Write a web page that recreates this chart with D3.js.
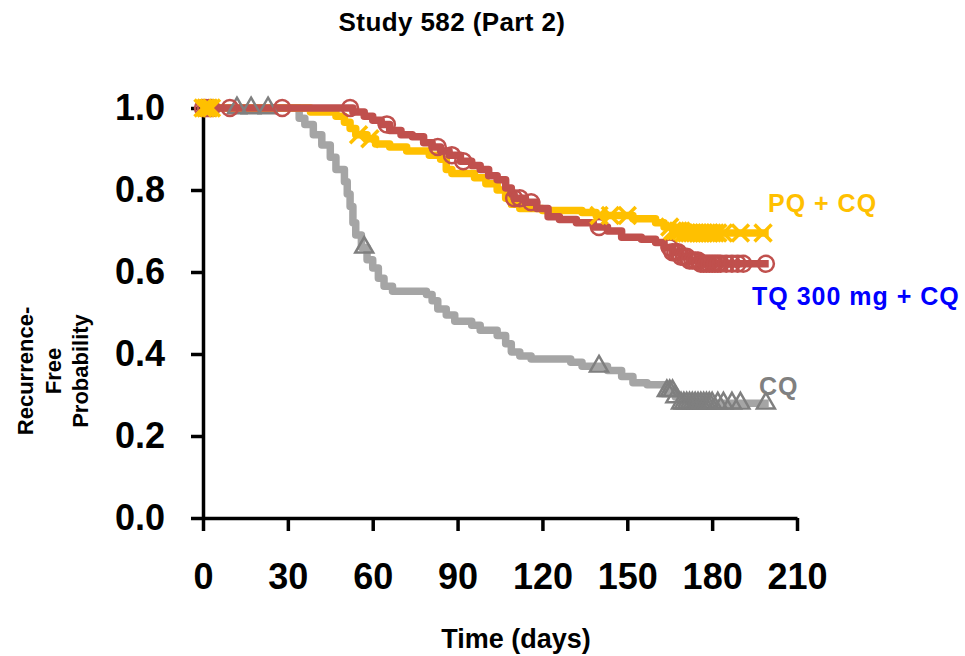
<!DOCTYPE html>
<html>
<head>
<meta charset="utf-8">
<script src="https://cdn.jsdelivr.net/npm/d3@7"></script>
<style>
  body { margin: 0; background: #fff; }
  svg { display: block; font-family: "Liberation Sans", Arial, sans-serif; }
</style>
</head>
<body>
<svg width="965" height="656"></svg>
<script>
// Kaplan-Meier steps: [day, survival]
const cqSteps = [[0,1],[34,0.975],[36,0.96],[39,0.935],[42,0.91],[45,0.88],[47,0.85],[50,0.82],[51,0.79],[52,0.76],[53,0.72],[54,0.69],[56,0.66],[58,0.63],[60,0.61],[62,0.585],[64,0.565],[67,0.553],[79,0.545],[81,0.53],[83,0.51],[86,0.495],[89,0.48],[95,0.47],[98,0.458],[104,0.445],[107,0.425],[109,0.405],[112,0.395],[116,0.388],[130,0.38],[134,0.37],[143,0.36],[148,0.345],[152,0.33],[157,0.325],[164,0.31],[167,0.295],[169,0.28],[200,0.28]];
const pqSteps = [[0,1],[38,0.99],[47,0.98],[50,0.965],[52,0.95],[54,0.935],[58,0.925],[61,0.912],[66,0.905],[72,0.895],[80,0.885],[84,0.875],[86,0.85],[88,0.84],[96,0.83],[100,0.815],[104,0.8],[107,0.78],[109,0.765],[112,0.755],[120,0.75],[134,0.745],[139,0.738],[152,0.73],[160,0.72],[163,0.71],[166,0.7],[170,0.695],[200,0.695]];
const tqSteps = [[0,1],[53,0.99],[57,0.98],[60,0.97],[63,0.96],[66,0.945],[70,0.935],[74,0.93],[78,0.915],[81,0.905],[84,0.895],[87,0.885],[91,0.87],[95,0.86],[98,0.85],[101,0.835],[104,0.825],[107,0.805],[109,0.79],[110,0.78],[114,0.77],[118,0.755],[122,0.735],[126,0.728],[132,0.72],[138,0.71],[143,0.7],[148,0.685],[155,0.68],[160,0.672],[163,0.66],[166,0.648],[169,0.637],[172,0.628],[176,0.62],[200,0.62]];

// censored times (days)
const cqCensor = [12,17,23,57,140,164,165,166,167,169,170,171,172,173,174,175,176,177,178,179,180,182,184,187,190,199];
const pqCensor = [0,1,2,3,55,59,140,144,150,165,166,167,168,169,170,171,172,173,174,175,176,177,178,179,180,181,182,184,190,198];
const tqCensor = [0,1,2,3,9.5,28,52,65,83,88,92,110,112,116,140,165,166,167,168,169,170,171,172,173,174,175,176,177,178,179,180,181,182,183,185,187,189,191,199];

const xTicks = [0,30,60,90,120,150,180,210];
const yTicks = [0,0.2,0.4,0.6,0.8,1.0];

const svg = d3.select("svg");

const x = d3.scaleLinear().domain([0,210]).range([203,797]);
const y = d3.scaleLinear().domain([0,1]).range([518,108]);

function survAt(steps, t) {
  let s = steps[0][1];
  steps.forEach(function (d) { if (d[0] <= t) s = d[1]; });
  return s;
}

const line = d3.line()
  .x(d => x(d[0]))
  .y(d => y(d[1]))
  .curve(d3.curveStepAfter);

// axes
const yAxis = d3.axisLeft(y).tickValues(yTicks).tickFormat(d3.format(".1f"))
  .tickSize(12).tickSizeOuter(0).tickPadding(26);
const xAxis = d3.axisBottom(x).tickValues(xTicks).tickFormat(d => d)
  .tickSize(13).tickSizeOuter(0).tickPadding(32);

function styleAxis(g) {
  g.select(".domain").attr("stroke", "#000").attr("stroke-width", 3.5);
  g.selectAll(".tick line").attr("stroke", "#000").attr("stroke-width", 3.5);
  g.selectAll(".tick text")
    .attr("fill", "#000")
    .attr("font-family", "'Liberation Sans', Arial, sans-serif")
    .attr("font-weight", "bold")
    .attr("font-size", 36);
}

svg.append("g")
  .attr("transform", "translate(203,0)")
  .call(yAxis)
  .call(styleAxis);

svg.append("g")
  .attr("transform", "translate(0,518)")
  .call(xAxis)
  .call(styleAxis);

// curves
const series = [
  {steps: cqSteps, color: "#A5A5A5"},
  {steps: pqSteps, color: "#FFC000"},
  {steps: tqSteps, color: "#C0504D"}
];

svg.append("g").selectAll("path")
  .data(series)
  .join("path")
  .attr("d", d => line(d.steps))
  .attr("fill", "none")
  .attr("stroke", d => d.color)
  .attr("stroke-width", 7.5)
  .attr("stroke-linejoin", "round");

// censor marks
svg.append("g").selectAll("path")
  .data(cqCensor)
  .join("path")
  .attr("transform", d => "translate(" + x(d) + "," + y(survAt(cqSteps, d)) + ")")
  .attr("d", d3.symbol().type(d3.symbolTriangle2).size(230))
  .attr("fill", "none")
  .attr("stroke", "#7F7F7F")
  .attr("stroke-width", 2.5);

svg.append("g").selectAll("circle")
  .data(tqCensor)
  .join("circle")
  .attr("cx", d => x(d))
  .attr("cy", d => y(survAt(tqSteps, d)))
  .attr("r", 8)
  .attr("fill", "none")
  .attr("stroke", "#C0504D")
  .attr("stroke-width", 2.5);

svg.append("g").selectAll("path")
  .data(pqCensor)
  .join("path")
  .attr("transform", d => "translate(" + x(d) + "," + y(survAt(pqSteps, d)) + ")")
  .attr("d", d3.symbol().type(d3.symbolTimes).size(190))
  .attr("fill", "none")
  .attr("stroke", "#FFC000")
  .attr("stroke-width", 3.5);

// series labels
const labels = [
  {text: "PQ + CQ", color: "#FFC000", x: 768, y: 212},
  {text: "TQ 300 mg + CQ", color: "#0000FF", x: 752, y: 305},
  {text: "CQ", color: "#808080", x: 759, y: 395}
];
svg.append("g").selectAll("text")
  .data(labels)
  .join("text")
  .attr("x", d => d.x)
  .attr("y", d => d.y)
  .attr("fill", d => d.color)
  .attr("font-weight", "bold")
  .attr("font-size", 25)
  .attr("letter-spacing", 1)
  .text(d => d.text);

// titles
svg.append("text")
  .attr("x", 452).attr("y", 31)
  .attr("text-anchor", "middle")
  .attr("font-weight", "bold").attr("font-size", 26)
  .attr("letter-spacing", 0.4)
  .text("Study 582 (Part 2)");

svg.append("text")
  .attr("x", 516).attr("y", 648)
  .attr("text-anchor", "middle")
  .attr("font-weight", "bold").attr("font-size", 27)
  .text("Time (days)");

const yLabel = svg.append("text")
  .attr("transform", "translate(0,371) rotate(-90)")
  .attr("text-anchor", "middle")
  .attr("font-weight", "bold").attr("font-size", 22);
["Recurrence-", "Free", "Probability"].forEach(function (t, i) {
  yLabel.append("tspan").attr("x", 0).attr("y", [33, 61, 88][i]).text(t);
});
</script>
</body>
</html>
